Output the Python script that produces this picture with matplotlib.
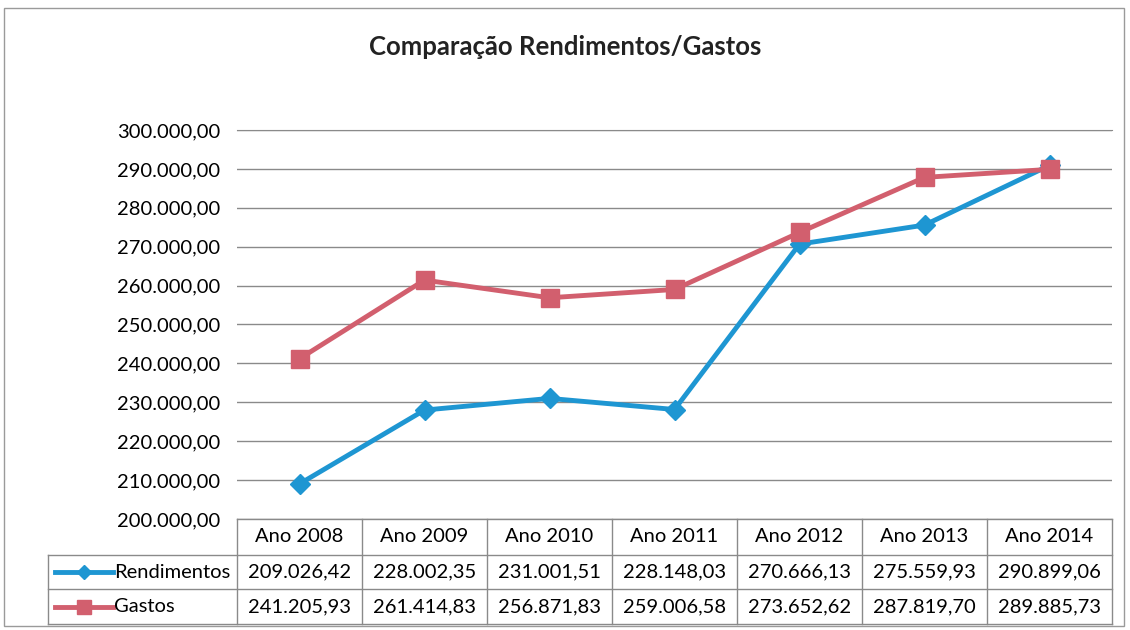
import numpy as np
import matplotlib.pyplot as plt
from matplotlib.transforms import blended_transform_factory
from matplotlib.lines import Line2D
from matplotlib.patches import Rectangle

anos = ['Ano 2008', 'Ano 2009', 'Ano 2010', 'Ano 2011', 'Ano 2012', 'Ano 2013', 'Ano 2014']
rendimentos = [209026.42, 228002.35, 231001.51, 228148.03, 270666.13, 275559.93, 290899.06]
gastos = [241205.93, 261414.83, 256871.83, 259006.58, 273652.62, 287819.70, 289885.73]

azul = '#1E96D2'
vermelho = '#D25F6E'
fonte = 'Lato'
tam = 14.5

def formato_pt(v):
    # 209026.42 -> 209.026,42
    s = f"{v:,.2f}"
    return s.replace(',', '#').replace('.', ',').replace('#', '.')

W, H = 1130, 630
fig = plt.figure(figsize=(W / 100, H / 100), dpi=100)
plt.rcParams['font.family'] = [fonte, 'DejaVu Sans']

# moldura do gráfico
fig.patches.append(Rectangle((4 / W, 1 - 626 / H), 1120 / W, 618 / H, transform=fig.transFigure,
                             fill=False, edgecolor='#9a9a9a', linewidth=1))

x0, x1 = 237, 1112
y_top, y_bot = 130, 519
ax = fig.add_axes([x0 / W, 1 - y_bot / H, (x1 - x0) / W, (y_bot - y_top) / H])

x = np.arange(len(anos))
ax.plot(x, rendimentos, color=azul, linewidth=3.5, marker='D', markersize=10, label='Rendimentos', zorder=3)
ax.plot(x, gastos, color=vermelho, linewidth=3.5, marker='s', markersize=13, label='Gastos', zorder=3)

ax.set_xlim(-0.5, len(anos) - 0.5)
ax.set_ylim(200000, 300000)
ax.set_yticks(np.arange(200000, 300001, 10000))
ax.set_yticklabels([formato_pt(v) for v in np.arange(200000, 300001, 10000)], fontsize=tam)
ax.set_xticks([])
ax.tick_params(axis='y', length=0, pad=12)
ax.grid(True, axis='y', color='#8a8a8a', linewidth=1)
for s in ['left', 'right', 'bottom']:
    ax.spines[s].set_visible(False)
ax.spines['top'].set_color('#8a8a8a')

fig.text(0.5, 1 - 47 / H, 'Comparação Rendimentos/Gastos', ha='center', va='center',
         fontsize=18.5, fontweight='bold', color='#222222')

# tabela de dados
tr = blended_transform_factory(ax.transData, fig.transFigure)
def fy(py):
    return 1 - py / H

linhas = [519, 555, 589, 624]
cor_tab = '#8a8a8a'
esq_tab = 48
# horizontais
ax.add_line(Line2D([-0.5, 6.5], [fy(519)] * 2, transform=tr, color=cor_tab, lw=1, clip_on=False))
for py in linhas[1:]:
    fig.add_artist(Line2D([esq_tab / W, x1 / W], [fy(py)] * 2, transform=fig.transFigure, color=cor_tab, lw=1))
# verticais
for i in range(len(anos) + 1):
    ax.add_line(Line2D([i - 0.5] * 2, [fy(519), fy(624)], transform=tr, color=cor_tab, lw=1, clip_on=False))
fig.add_artist(Line2D([esq_tab / W] * 2, [fy(555), fy(624)], transform=fig.transFigure, color=cor_tab, lw=1))

for i, ano in enumerate(anos):
    ax.text(i, fy(537), ano, transform=tr, ha='center', va='center', fontsize=tam)
    ax.text(i, fy(572), formato_pt(rendimentos[i]), transform=tr, ha='center', va='center', fontsize=tam)
    ax.text(i, fy(607), formato_pt(gastos[i]), transform=tr, ha='center', va='center', fontsize=tam)

# legenda dentro da tabela
for py, cor, mk, ms, nome in [(572, azul, 'D', 7, 'Rendimentos'), (607, vermelho, 's', 10, 'Gastos')]:
    fig.add_artist(Line2D([55 / W, 113 / W], [fy(py)] * 2, transform=fig.transFigure, color=cor, lw=3.5))
    fig.add_artist(Line2D([84 / W], [fy(py)], transform=fig.transFigure, color=cor, marker=mk, markersize=ms))
    fig.text(114 / W, fy(py), nome, ha='left', va='center', fontsize=tam)

plt.savefig('out.png', dpi=100)
